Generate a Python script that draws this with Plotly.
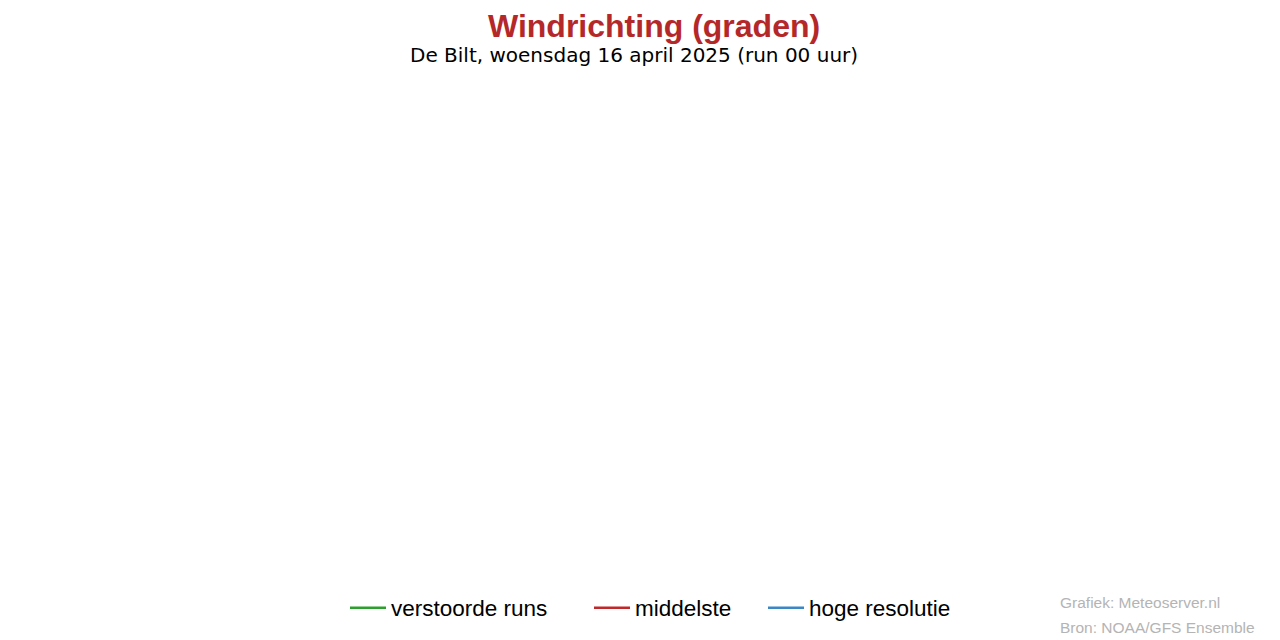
import plotly.graph_objects as go

# the reference shows no plotted values, only the frame texts and legend
tijden = [None]
verstoorde_runs = [None]
middelste = [None]
hoge_resolutie = [None]

series = [
    ("verstoorde runs", verstoorde_runs, "#2ca02c", "legend", 337),
    ("middelste", middelste, "#c0282a", "legend2", 581),
    ("hoge resolutie", hoge_resolutie, "#3a86c6", "legend3", 755),
]

fig = go.Figure()
for naam, waarden, kleur, leg, xpos in series:
    fig.add_trace(go.Scatter(x=tijden, y=waarden, mode="lines", name=naam, legend=leg,
                             line=dict(color=kleur, width=2.5), showlegend=True))
    fig.update_layout({leg: dict(xref="container", yref="container", x=xpos / 1280, xanchor="left",
                                 y=0.0625, yanchor="middle", orientation="h", itemwidth=36,
                                 font=dict(size=22.5, color="black"))})

fig.update_layout(
    width=1280, height=640,
    paper_bgcolor="white", plot_bgcolor="white",
    margin=dict(l=60, r=60, t=90, b=70),
    font=dict(family="Liberation Sans, Arial, sans-serif", color="black"),
    xaxis=dict(visible=False),
    yaxis=dict(visible=False),
    showlegend=True,
)

fig.add_annotation(text="<b>Windrichting (graden)</b>", xref="paper", yref="paper",
                   x=0.5, y=1, xanchor="center", yanchor="middle", yshift=72, xshift=6,
                   showarrow=False, font=dict(size=32, color="#b5282a"))
fig.add_annotation(text="De Bilt, woensdag 16 april 2025 (run 00 uur)", xref="paper", yref="paper",
                   x=0.5, y=1, xanchor="center", yanchor="middle", yshift=43, xshift=-14,
                   showarrow=False, font=dict(size=20, color="black", family="DejaVu Sans"))
fig.add_annotation(text="Grafiek: Meteoserver.nl", xref="paper", yref="paper",
                   x=1, y=0, xanchor="left", yanchor="middle", xshift=-170, yshift=-24,
                   showarrow=False, font=dict(size=15.5, color="#b4b4b4"))
fig.add_annotation(text="Bron: NOAA/GFS Ensemble", xref="paper", yref="paper",
                   x=1, y=0, xanchor="left", yanchor="middle", xshift=-170, yshift=-49,
                   showarrow=False, font=dict(size=15.5, color="#b4b4b4"))

fig.write_html("out.html")
